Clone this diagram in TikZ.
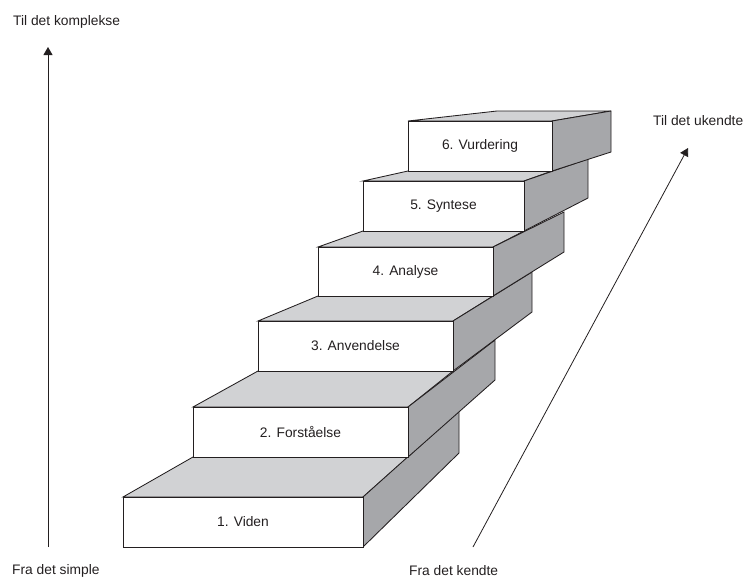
\documentclass[tikz,border=0pt]{standalone}
\usepackage{fontspec}
\setmainfont{Liberation Sans}
\usetikzlibrary{arrows.meta}
\definecolor{lc}{HTML}{231F20}
\definecolor{topc}{HTML}{D1D2D4}
\definecolor{sidec}{HTML}{A6A7AA}
\tikzset{
  face/.style={draw=lc, line width=0.85pt, line join=miter},
  topface/.style={face, fill=topc},
  sideface/.style={face, fill=sidec},
  frontface/.style={face, fill=white, inner sep=0pt, font=\fontsize{13.8}{16}\selectfont, text=lc},
  lbl/.style={inner sep=0pt, anchor=base west, font=\fontsize{13.8}{16}\selectfont, text=lc},
  arr/.style={draw=lc, line width=0.8pt, -{Triangle[width=9pt,length=8pt]}},
}
\begin{document}
\begin{tikzpicture}[x=1pt,y=-1pt]
\useasboundingbox (0,0) rectangle (745,579);
% top faces
\draw[topface] (123,497) -- (363,497) -- (408,457) -- (193,457) -- cycle;
\draw[topface] (193,407) -- (408,407) -- (453,371) -- (258,371) -- cycle;
\draw[topface] (258,321) -- (453,321) -- (493,296) -- (318,296) -- cycle;
\draw[topface] (318,247) -- (493,247) -- (524,231) -- (363,231) -- cycle;
\draw[topface] (363,181) -- (524,181) -- (552,171) -- (408,171) -- cycle;
\draw[topface] (408,121) -- (552,121) -- (611,111) -- (497,111) -- cycle;
% right faces
\draw[sideface] (363,497) -- (459,411) -- (459,453) -- (363,547) -- cycle;
\draw[sideface] (408,407) -- (495,340) -- (495,380) -- (408,457) -- cycle;
\draw[sideface] (453,321) -- (532,272) -- (532,312) -- (453,371) -- cycle;
\draw[sideface] (493,247) -- (564,212) -- (564,252) -- (493,296) -- cycle;
\draw[sideface] (524,181) -- (588,159) -- (588,198) -- (524,231) -- cycle;
\draw[sideface] (552,121) -- (611,111) -- (611,152) -- (552,171) -- cycle;
% front faces
\node[frontface, minimum width=240pt, minimum height=50pt] (s1) at (243,522) {1. Viden};
\node[frontface, minimum width=215pt, minimum height=50pt] (s2) at (300.5,432) {2. Forståelse};
\node[frontface, minimum width=195pt, minimum height=50pt] (s3) at (355.5,346) {3. Anvendelse};
\node[frontface, minimum width=175pt, minimum height=49pt] (s4) at (405.5,271.5) {4. Analyse};
\node[frontface, minimum width=161pt, minimum height=50pt] (s5) at (443.5,206) {5. Syntese};
\node[frontface, minimum width=144pt, minimum height=50pt] (s6) at (480,146) {6. Vurdering};
% labels
\node[lbl] (tk) at (13,25) {Til det komplekse};
\node[lbl] (fs) at (12,574) {Fra det simple};
\node[lbl] (fk) at (409,575) {Fra det kendte};
\node[lbl] (tu) at (653,125) {Til det ukendte};
% arrows
\coordinate (a1) at (48,547);
\coordinate (a2) at (48,47);
\coordinate (b1) at (473,547);
\coordinate (b2) at (688,148);
\draw[arr] (a1) -- (a2);
\draw[arr] (b1) -- (b2);
\end{tikzpicture}
\end{document}
